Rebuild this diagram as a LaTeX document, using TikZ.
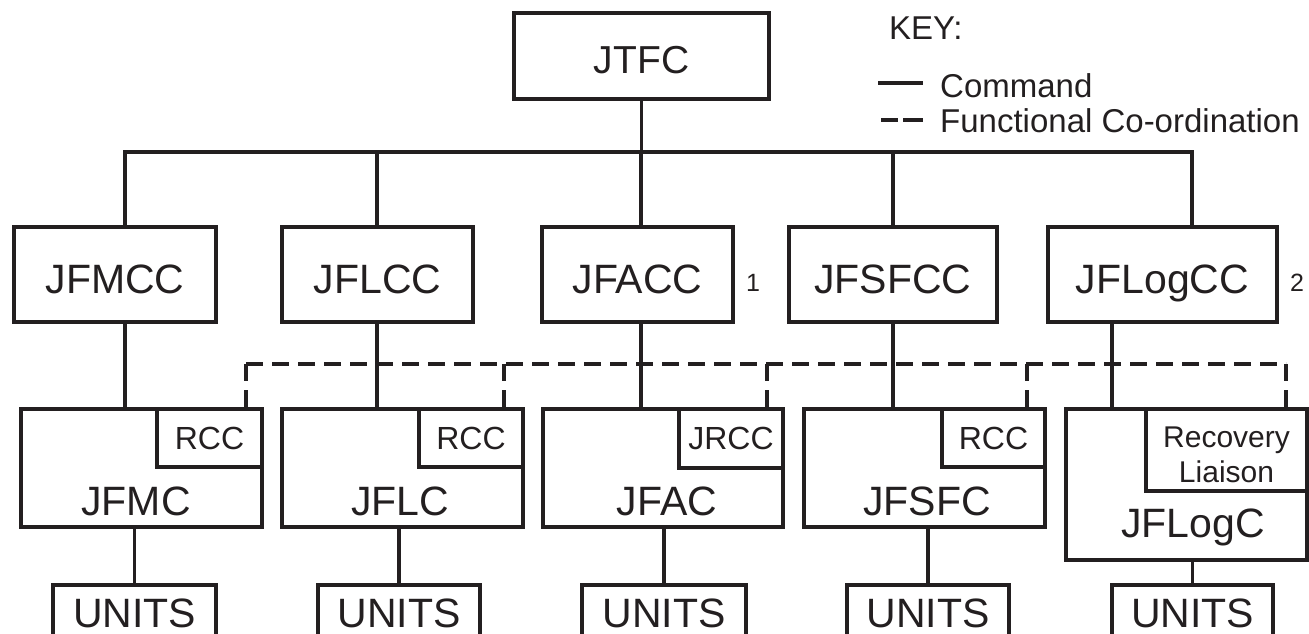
\documentclass[tikz,border=0pt]{standalone}
\usepackage{fontspec}
\setmainfont{Liberation Sans}
\definecolor{ink}{RGB}{35,31,32}
\begin{document}
\begin{tikzpicture}[x=1pt,y=-1pt,
  cmd/.style={draw=ink, line width=3.4pt},
  coord/.style={draw=ink, line width=3.4pt, dash pattern=on 17pt off 9pt},
  box/.style={draw=ink, line width=3.4pt, rectangle, inner sep=0pt, outer sep=0pt},
  subbox/.style={box, anchor=north east},
  big/.style={font=\fontsize{41}{49}\selectfont, text=ink, anchor=base, inner sep=0pt},
  small/.style={font=\fontsize{32}{38}\selectfont, text=ink, anchor=base, inner sep=0pt},
  tiny/.style={font=\fontsize{30}{35}\selectfont, text=ink, anchor=base, inner sep=0pt},
  keytxt/.style={font=\fontsize{33}{40}\selectfont, text=ink, anchor=base west, inner sep=0pt},
  note/.style={font=\fontsize{25}{30}\selectfont, text=ink, anchor=base, inner sep=0pt}]

\useasboundingbox (0,0) rectangle (1309,634);
\clip (0,0) rectangle (1309,634);

% top command
\node[box, minimum width=255, minimum height=86] (jtfc) at (641.5,56) {};
\node[big, font=\fontsize{39}{47}\selectfont] (tjtfc) at (641.5,74) {JTFC};

% component commands
\node[box, minimum width=202, minimum height=95] (jfmcc)   at (115,274.5) {};
\node[box, minimum width=191, minimum height=95] (jflcc)   at (377.5,274.5) {};
\node[box, minimum width=191, minimum height=95] (jfacc)   at (637.5,274.5) {};
\node[box, minimum width=208, minimum height=95] (jfsfcc)  at (893,274.5) {};
\node[box, minimum width=229, minimum height=95] (jflogcc) at (1162.5,274.5) {};
\node[big] (tjfmcc)   at (115,293)    {JFMCC};
\node[big] (tjflcc)   at (377.5,293)  {JFLCC};
\node[big] (tjfacc)   at (637.5,293)  {JFACC};
\node[big] (tjfsfcc)  at (893,293)    {JFSFCC};
\node[big] (tjflogcc) at (1162.5,293) {JFLogCC};
\node[note] (n1) at (753,291)  {1};
\node[note] (n2) at (1297,291) {2};

% component headquarters
\node[box, minimum width=241, minimum height=118] (jfmc)   at (141.5,468) {};
\node[box, minimum width=241, minimum height=118] (jflc)   at (402.5,468) {};
\node[box, minimum width=240, minimum height=118] (jfac)   at (663,468) {};
\node[box, minimum width=241, minimum height=118] (jfsfc)  at (924.5,468) {};
\node[box, minimum width=241, minimum height=151] (jflogc) at (1186.5,484.5) {};
\node[big] (tjfmc)   at (136,515)  {JFMC};
\node[big] (tjflc)   at (400,515)  {JFLC};
\node[big] (tjfac)   at (667,515)  {JFAC};
\node[big] (tjfsfc)  at (927,515)  {JFSFC};
\node[big] (tjflogc) at (1193,537) {JFLogC};

% recovery cells
\node[subbox, minimum width=105, minimum height=58] (rcc1)  at (jfmc.north east) {};
\node[subbox, minimum width=104, minimum height=58] (rcc2)  at (jflc.north east) {};
\node[subbox, minimum width=104, minimum height=59] (rcc3)  at (jfac.north east) {};
\node[subbox, minimum width=103, minimum height=58] (rcc4)  at (jfsfc.north east) {};
\node[subbox, minimum width=161, minimum height=82] (recov) at (jflogc.north east) {};
\node[small] (trcc1) at (rcc1.center |- 0,449) {RCC};
\node[small] (trcc2) at (rcc2.center |- 0,449) {RCC};
\node[small] (trcc3) at (rcc3.center |- 0,449) {JRCC};
\node[small] (trcc4) at (rcc4.center |- 0,449) {RCC};
\node[tiny] (trecov) at (recov.center |- 0,447) {Recovery};
\node[tiny] (tliais) at (recov.center |- 0,482) {Liaison};

% units
\node[box, minimum width=163, minimum height=75] (u1) at (134.5,622.5) {};
\node[box, minimum width=162, minimum height=75] (u2) at (399,622.5) {};
\node[box, minimum width=164, minimum height=75] (u3) at (664,622.5) {};
\node[box, minimum width=162, minimum height=75] (u4) at (928,622.5) {};
\node[box, minimum width=161, minimum height=75] (u5) at (1192.5,622.5) {};
\foreach \u in {u1,u2,u3,u4,u5}
  \node[big] at (\u.center |- 0,627) {UNITS};

% command lines
\coordinate (b1) at (125,152);
\coordinate (b2) at (377,152);
\coordinate (b3) at (641,152);
\coordinate (b4) at (893,152);
\coordinate (b5) at (1192,152);
\coordinate (d5) at (1112,0);
\draw[cmd] (jtfc.south) -- (jtfc.south |- b1);
\draw[cmd] (b1 |- jfmcc.north) -- (b1) -- (b5) -- (b5 |- jflogcc.north);
\draw[cmd] (b2) -- (b2 |- jflcc.north);
\draw[cmd] (b3) -- (b3 |- jfacc.north);
\draw[cmd] (b4) -- (b4 |- jfsfcc.north);
\draw[cmd] (jfmcc.south -| b1) -- (jfmc.north -| b1);
\draw[cmd] (jflcc.south -| b2) -- (jflc.north -| b2);
\draw[cmd] (jfacc.south -| b3) -- (jfac.north -| b3);
\draw[cmd] (jfsfcc.south -| b4) -- (jfsfc.north -| b4);
\draw[cmd] (jflogcc.south -| d5) -- (jflogc.north -| d5);
\draw[cmd] (jfmc.south -| u1.north) -- (u1.north);
\draw[cmd] (jflc.south -| u2.north) -- (u2.north);
\draw[cmd] (jfac.south -| u3.north) -- (u3.north);
\draw[cmd] (jfsfc.south -| u4.north) -- (u4.north);
\draw[cmd] (jflogc.south -| u5.north) -- (u5.north);

% functional co-ordination lines
\coordinate (f1) at (246,364);
\coordinate (f2) at (504,364);
\coordinate (f3) at (767,364);
\coordinate (f4) at (1027,364);
\coordinate (f5) at (1286,364);
\draw[coord] (f1) -- (f5);
\draw[coord] (f1) -- (rcc1.north -| f1);
\draw[coord] (f2) -- (rcc2.north -| f2);
\draw[coord] (f3) -- (rcc3.north -| f3);
\draw[coord] (f4) -- (rcc4.north -| f4);
\draw[coord] (f5) -- (recov.north -| f5);

% key
\node[keytxt] (keyhead) at (889,40) {KEY:};
\node[keytxt] (keycmd) at (940,97) {Command};
\node[keytxt] (keyfc) at (940,132) {Functional Co-ordination};
\coordinate (k1) at (878,83);
\coordinate (k2) at (923,83);
\coordinate (k3) at (881,120);
\coordinate (k4) at (923,120);
\draw[cmd] (k1) -- (k2);
\draw[cmd, dash pattern=on 17pt off 5pt on 20pt off 5pt] (k3) -- (k4);
\end{tikzpicture}
\end{document}
